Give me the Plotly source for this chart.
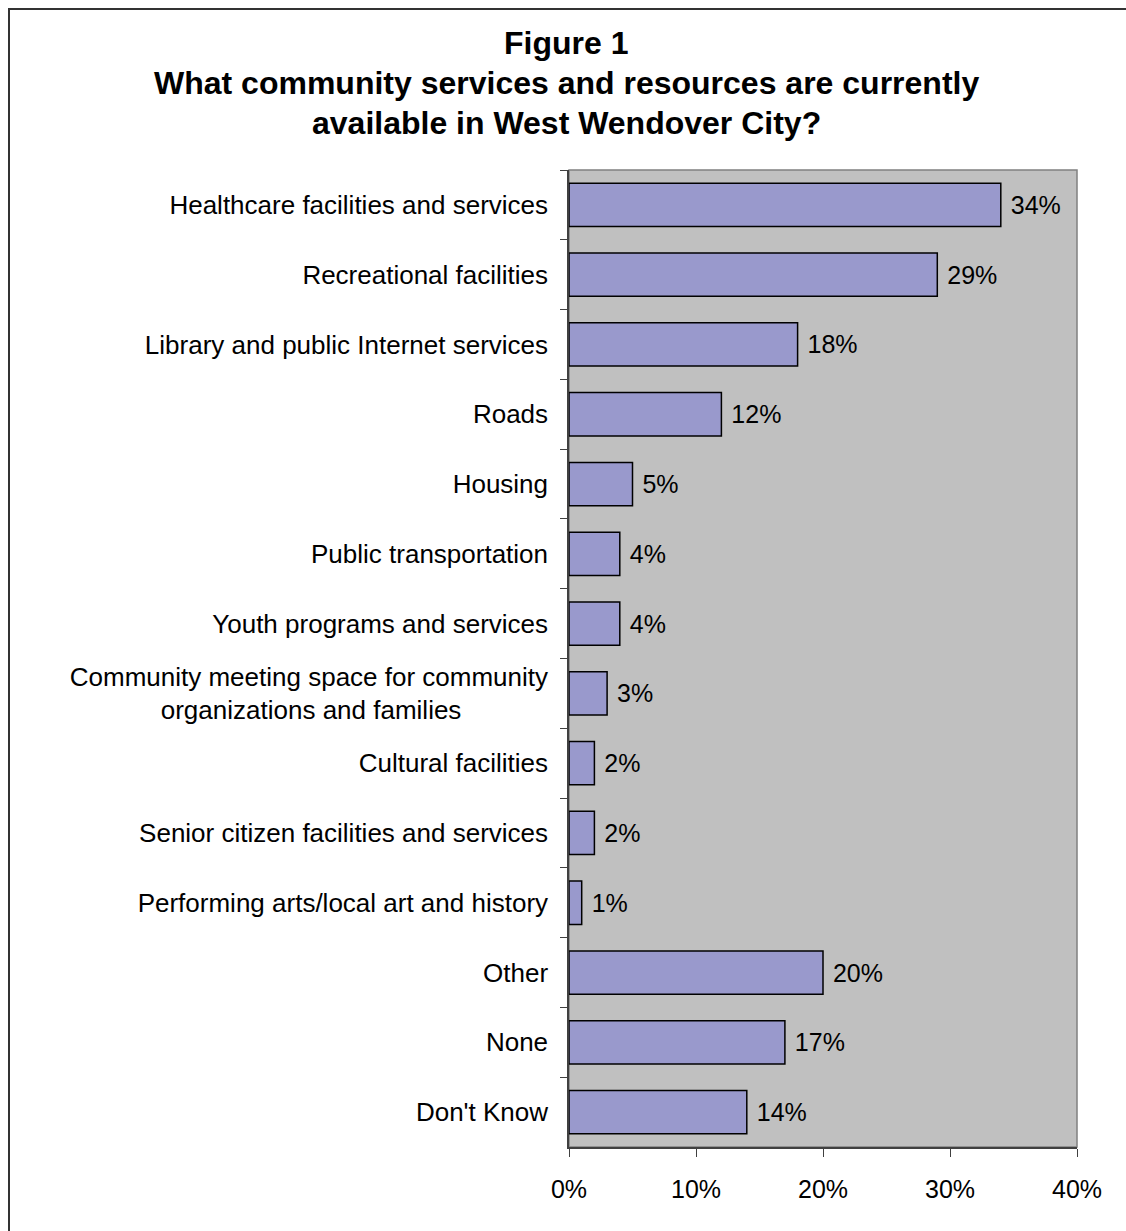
import plotly.graph_objects as go

categories = [
    "Healthcare facilities and services",
    "Recreational facilities",
    "Library and public Internet services",
    "Roads",
    "Housing",
    "Public transportation",
    "Youth programs and services",
    "Community meeting space for community<br>organizations and families" + "\u00a0" * 12,
    "Cultural facilities",
    "Senior citizen facilities and services",
    "Performing arts/local art and history",
    "Other",
    "None",
    "Don't Know",
]
values = [34, 29, 18, 12, 5, 4, 4, 3, 2, 2, 1, 20, 17, 14]
x_ticks = [0, 10, 20, 30, 40]
x_ticklabels = ["0%", "10%", "20%", "30%", "40%"]
title_lines = [
    "Figure 1",
    "What community services and resources are currently",
    "available in West Wendover City?",
]

W, H = 1126, 1231
L, R, T, B = 569, 49, 170, 84
pw, ph = W - L - R, H - T - B

FONT = "Liberation Sans, Arial, sans-serif"

fig = go.Figure(
    go.Bar(
        x=values,
        y=categories,
        orientation="h",
        marker=dict(color="#9999CC", line=dict(color="#000000", width=1.5)),
        text=[f"\u00a0{v}%" for v in values],
        textposition="outside",
        textfont=dict(family=FONT, size=25, color="#000000"),
        cliponaxis=False,
        width=0.62,
    )
)

fig.update_layout(
    width=W,
    height=H,
    margin=dict(l=L, r=R, t=T, b=B),
    paper_bgcolor="#FFFFFF",
    plot_bgcolor="#C0C0C0",
    showlegend=False,
    font=dict(family=FONT, size=25, color="#000000"),
)

fig.update_xaxes(
    range=[0, 40],
    tickvals=x_ticks,
    ticktext=x_ticklabels,
    showgrid=False,
    zeroline=False,
    showline=True,
    linecolor="#404040",
    linewidth=1.5,
    ticks="outside",
    ticklen=8,
    tickcolor="#404040",
    tickwidth=1,
    ticklabelstandoff=11,
    tickfont=dict(family=FONT, size=25, color="#000000"),
)

fig.update_yaxes(
    autorange="reversed",
    type="category",
    tickson="boundaries",
    showgrid=False,
    zeroline=False,
    showline=True,
    linecolor="#404040",
    linewidth=1.5,
    ticks="outside",
    ticklen=7,
    tickcolor="#404040",
    tickwidth=1,
    ticklabelstandoff=14,
    tickfont=dict(family=FONT, size=26, color="#000000"),
)

# plot area border (top/right) in gray
fig.add_shape(type="rect", xref="paper", yref="paper", x0=0, x1=1, y0=0, y1=1,
              line=dict(color="#808080", width=1.5), layer="below")


def px_to_paper_x(px):
    return (px - L) / pw


def px_to_paper_y(py):
    return (H - B - py) / ph


# outer frame
fig.add_shape(type="rect", xref="paper", yref="paper",
              x0=px_to_paper_x(9), x1=px_to_paper_x(W + 10),
              y0=px_to_paper_y(H + 10), y1=px_to_paper_y(9),
              line=dict(color="#333333", width=2))

title_y = [43, 83, 123]
for line, yy in zip(title_lines, title_y):
    fig.add_annotation(
        text=f"<b>{line}</b>", xref="paper", yref="paper",
        x=px_to_paper_x(566), y=px_to_paper_y(yy),
        xanchor="center", yanchor="middle", showarrow=False,
        font=dict(family=FONT, size=32, color="#000000"),
    )

fig.write_html("out.html")
